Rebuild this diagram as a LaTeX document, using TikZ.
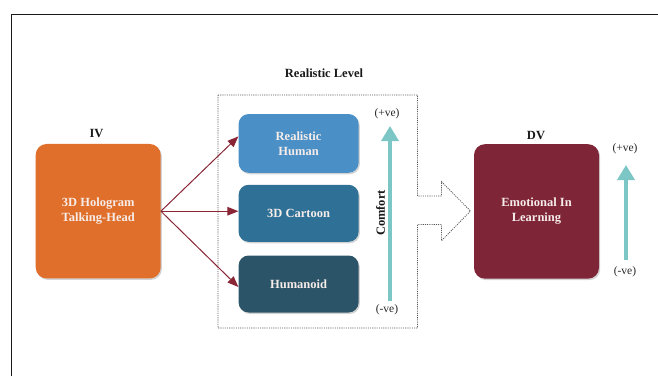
\documentclass[tikz,border=0pt]{standalone}
\usepackage{fontspec}
\setmainfont{Liberation Serif}
\usetikzlibrary{arrows.meta,shadows,calc}
\definecolor{ivorange}{HTML}{E06F2B}
\definecolor{rhblue}{HTML}{4A8FC6}
\definecolor{cartblue}{HTML}{2F7196}
\definecolor{humblue}{HTML}{2C5468}
\definecolor{dvred}{HTML}{7F2538}
\definecolor{teal2}{HTML}{7CC6C6}
\definecolor{arrred}{HTML}{8A2535}
\definecolor{boxtext}{HTML}{F6EDEA}
\tikzset{
  bigbox/.style={rectangle, rounded corners=11pt, minimum width=125pt, minimum height=134.5pt,
    text=boxtext, font=\bfseries\fontsize{12.5}{15}\selectfont, align=center,
    drop shadow={shadow xshift=1.2pt, shadow yshift=-1.5pt, opacity=0.35}},
  levelbox/.style={rectangle, rounded corners=10pt, minimum width=120pt, minimum height=57pt,
    text=boxtext, font=\bfseries\fontsize{12.5}{15}\selectfont, align=center,
    drop shadow={shadow xshift=1.2pt, shadow yshift=-1.5pt, opacity=0.35}},
  lbl/.style={font=\bfseries\fontsize{12.5}{15}\selectfont, text=black!90},
  sgn/.style={font=\fontsize{11.5}{13}\selectfont, text=black!85},
  redarrow/.style={draw=arrred, line width=1pt, -{Triangle[length=11pt,width=8.5pt]}},
  tealarrow/.style={draw=teal2, line width=3.5pt, -{Triangle[length=15pt,width=17pt]}},
  dotline/.style={draw=black!65, line width=0.8pt, dash pattern=on 1.1pt off 1.1pt}
}
\begin{document}
\begin{tikzpicture}[x=1pt,y=-1pt]
\useasboundingbox (0,0) rectangle (658,376);
% frame
\draw[line width=1.4pt, black!90] (11.3,376) -- (11.3,14.5) -- (658,14.5);

% dashed region with outline arrow
\draw[dotline] (218,95) -- (417.5,95) -- (417.5,196) -- (441.5,196) -- (441.5,181.7)
  -- (470.5,211) -- (441.5,240.7) -- (441.5,224.5) -- (417.5,224.5) -- (417.5,328)
  -- (218,328) -- cycle;

% boxes
\node[bigbox, fill=ivorange] (iv) at (98.2,211.2) {3D Hologram\\Talking-Head};
\node[levelbox, fill=rhblue, minimum height=58.7pt] (rh) at (298.6,143.4) {Realistic\\Human};
\node[levelbox, fill=cartblue] (cart) at (298.6,213.3) {3D Cartoon};
\node[levelbox, fill=humblue] (hum) at (298.6,284) {Humanoid};
\node[bigbox, fill=dvred] (dv) at (536.5,211.4) {Emotional In\\Learning};

% labels
\node[lbl] (ivlbl) at (96.5,133) {IV};
\node[lbl] (dvlbl) at (536,135) {DV};
\node[lbl] (rl) at (324,73) {Realistic Level};

% red arrows
\draw[redarrow] (iv.east) -- ([yshift=7pt]rh.west);
\draw[redarrow] (iv.east) -- ([yshift=2.1pt]cart.west);
\draw[redarrow] (iv.east) -- ([yshift=-3pt]hum.west);

% comfort axis
\node[sgn] (cplus) at (387,114) {(+ve)};
\node[sgn] (cminus) at (387,310) {(-ve)};
\coordinate (cbot) at (390,301);
\coordinate (ctop) at (390,126);
\draw[tealarrow] (cbot) -- (ctop);
\node[lbl, rotate=90] (comfort) at (380.5,213) {Comfort};

% DV axis
\node[sgn] (dplus) at (625,149) {(+ve)};
\node[sgn] (dminus) at (625,271.7) {(-ve)};
\coordinate (dbot) at (626,260);
\coordinate (dtop) at (626,165);
\draw[tealarrow] (dbot) -- (dtop);
\end{tikzpicture}
\end{document}
